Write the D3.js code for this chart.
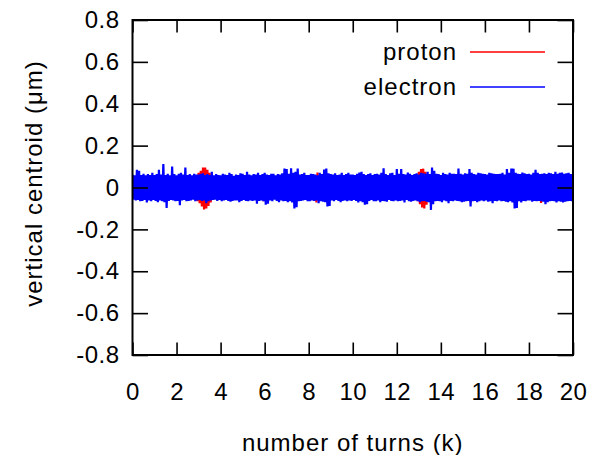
<!DOCTYPE html>
<html>
<head>
<meta charset="utf-8">
<script src="https://cdn.jsdelivr.net/npm/d3@7"></script>
<style>
  body { margin: 0; background: #fff; }
  svg { display: block; }
  text { font-family: "Liberation Sans", Arial, sans-serif; fill: #000; }
</style>
</head>
<body>
<div id="chart"></div>
<script>
// sampling step of the envelopes, in thousands of turns
var sampleStep = 0.1;

var xTicks = [0, 2, 4, 6, 8, 10, 12, 14, 16, 18, 20];
var yTicks = [-0.8, -0.6, -0.4, -0.2, 0, 0.2, 0.4, 0.6, 0.8];
var seriesNames = ['proton', 'electron'];
var seriesColors = ['#ff0000', '#0000ff'];

// vertical centroid (um): upper / lower peaks of the fast oscillation, one per 0.1k turns
var protonHi = [
  0.05,0.052,0.048,0.05,0.052,0.05,0.05,0.048,0.052,0.05,
  0.05,0.05,0.052,0.048,0.05,0.052,0.048,0.05,0.05,0.052,
  0.052,0.05,0.05,0.052,0.048,0.05,0.052,0.05,0.055,0.06,
  0.07,0.08,0.095,0.095,0.085,0.07,0.058,0.052,0.05,0.052,
  0.05,0.05,0.052,0.048,0.05,0.052,0.048,0.05,0.05,0.052,
  0.052,0.05,0.05,0.052,0.048,0.05,0.052,0.05,0.05,0.048,
  0.05,0.052,0.05,0.05,0.052,0.048,0.05,0.052,0.05,0.05,
  0.052,0.05,0.05,0.052,0.048,0.05,0.052,0.05,0.05,0.052,
  0.05,0.05,0.052,0.06,0.072,0.055,0.05,0.052,0.05,0.05,
  0.052,0.05,0.05,0.052,0.048,0.05,0.052,0.05,0.05,0.052,
  0.05,0.052,0.048,0.05,0.052,0.05,0.05,0.048,0.052,0.05,
  0.05,0.05,0.052,0.048,0.05,0.052,0.048,0.05,0.05,0.052,
  0.052,0.05,0.05,0.052,0.048,0.05,0.052,0.05,0.055,0.06,
  0.075,0.088,0.09,0.075,0.06,0.052,0.05,0.05,0.05,0.05,
  0.05,0.052,0.048,0.05,0.052,0.05,0.05,0.048,0.052,0.05,
  0.05,0.05,0.052,0.055,0.05,0.052,0.048,0.05,0.05,0.052,
  0.062,0.05,0.05,0.052,0.048,0.05,0.052,0.05,0.05,0.048,
  0.05,0.052,0.05,0.05,0.052,0.048,0.05,0.052,0.05,0.05,
  0.052,0.05,0.05,0.052,0.066,0.058,0.052,0.05,0.05,0.052,
  0.05,0.05,0.052,0.05,0.05,0.052,0.048,0.05,0.05,0.052,0.05
];
var protonLo = [
  -0.052,-0.05,-0.05,-0.048,-0.05,-0.052,-0.048,-0.05,-0.05,-0.052,
  -0.05,-0.048,-0.052,-0.05,-0.05,-0.052,-0.05,-0.048,-0.052,-0.05,
  -0.05,-0.052,-0.048,-0.05,-0.05,-0.052,-0.05,-0.05,-0.055,-0.065,
  -0.075,-0.09,-0.105,-0.1,-0.088,-0.072,-0.06,-0.052,-0.05,-0.05,
  -0.052,-0.05,-0.048,-0.05,-0.052,-0.05,-0.05,-0.048,-0.052,-0.05,
  -0.05,-0.052,-0.05,-0.048,-0.05,-0.052,-0.05,-0.05,-0.058,-0.066,
  -0.056,-0.05,-0.052,-0.048,-0.05,-0.052,-0.05,-0.05,-0.048,-0.052,
  -0.05,-0.052,-0.048,-0.05,-0.05,-0.052,-0.05,-0.048,-0.052,-0.05,
  -0.05,-0.052,-0.062,-0.072,-0.058,-0.05,-0.05,-0.052,-0.05,-0.048,
  -0.052,-0.05,-0.05,-0.048,-0.05,-0.052,-0.05,-0.05,-0.052,-0.05,
  -0.05,-0.052,-0.048,-0.05,-0.052,-0.05,-0.05,-0.048,-0.052,-0.05,
  -0.05,-0.048,-0.052,-0.05,-0.05,-0.052,-0.05,-0.048,-0.052,-0.05,
  -0.05,-0.052,-0.048,-0.05,-0.05,-0.052,-0.05,-0.05,-0.055,-0.065,
  -0.08,-0.095,-0.1,-0.082,-0.062,-0.052,-0.05,-0.05,-0.048,-0.05,
  -0.052,-0.05,-0.048,-0.05,-0.052,-0.05,-0.05,-0.048,-0.052,-0.05,
  -0.05,-0.052,-0.06,-0.072,-0.058,-0.05,-0.05,-0.052,-0.05,-0.048,
  -0.052,-0.05,-0.05,-0.048,-0.05,-0.052,-0.05,-0.05,-0.052,-0.05,
  -0.05,-0.052,-0.048,-0.05,-0.052,-0.05,-0.05,-0.048,-0.052,-0.05,
  -0.05,-0.048,-0.052,-0.05,-0.06,-0.074,-0.06,-0.05,-0.052,-0.05,
  -0.05,-0.052,-0.05,-0.048,-0.05,-0.052,-0.05,-0.05,-0.052,-0.05,-0.05
];

var electronHi = [
  0.062,0.058,0.085,0.08,0.06,0.066,0.058,0.064,0.06,0.07,
  0.06,0.064,0.085,0.062,0.112,0.06,0.066,0.058,0.1,0.064,
  0.058,0.066,0.07,0.062,0.095,0.06,0.064,0.058,0.066,0.062,
  0.062,0.066,0.068,0.06,0.064,0.06,0.075,0.058,0.064,0.06,
  0.058,0.066,0.062,0.06,0.07,0.064,0.056,0.062,0.06,0.068,
  0.065,0.06,0.075,0.062,0.058,0.064,0.062,0.07,0.06,0.064,
  0.07,0.062,0.06,0.066,0.066,0.058,0.064,0.062,0.068,0.09,
  0.088,0.066,0.092,0.07,0.075,0.09,0.062,0.064,0.07,0.06,
  0.06,0.066,0.064,0.062,0.058,0.07,0.064,0.086,0.09,0.068,
  0.064,0.062,0.068,0.06,0.062,0.07,0.06,0.064,0.07,0.062,
  0.062,0.06,0.066,0.072,0.075,0.064,0.06,0.064,0.068,0.06,
  0.064,0.066,0.062,0.07,0.092,0.064,0.06,0.068,0.07,0.06,
  0.088,0.066,0.088,0.064,0.062,0.072,0.066,0.06,0.064,0.068,
  0.062,0.07,0.068,0.066,0.075,0.064,0.095,0.08,0.066,0.064,
  0.06,0.07,0.064,0.062,0.07,0.066,0.066,0.064,0.09,0.066,
  0.062,0.068,0.066,0.088,0.07,0.064,0.062,0.07,0.068,0.066,
  0.064,0.062,0.07,0.068,0.066,0.064,0.064,0.066,0.07,0.062,
  0.088,0.07,0.09,0.09,0.07,0.066,0.064,0.072,0.068,0.064,
  0.066,0.062,0.07,0.085,0.07,0.064,0.066,0.068,0.064,0.07,
  0.068,0.064,0.075,0.066,0.07,0.072,0.066,0.068,0.07,0.064,0.062
];
var electronLo = [
  -0.058,-0.062,-0.06,-0.066,-0.064,-0.06,-0.072,-0.062,-0.066,-0.06,
  -0.064,-0.07,-0.062,-0.066,-0.07,-0.098,-0.064,-0.06,-0.062,-0.066,
  -0.064,-0.085,-0.062,-0.06,-0.066,-0.064,-0.062,-0.058,-0.066,-0.062,
  -0.06,-0.064,-0.062,-0.075,-0.066,-0.062,-0.06,-0.058,-0.064,-0.06,
  -0.066,-0.062,-0.06,-0.064,-0.068,-0.064,-0.062,-0.062,-0.07,-0.064,
  -0.06,-0.064,-0.066,-0.062,-0.064,-0.062,-0.078,-0.064,-0.062,-0.066,
  -0.082,-0.078,-0.062,-0.066,-0.058,-0.064,-0.07,-0.062,-0.066,-0.064,
  -0.07,-0.066,-0.072,-0.1,-0.094,-0.066,-0.064,-0.062,-0.06,-0.066,
  -0.066,-0.062,-0.064,-0.062,-0.075,-0.066,-0.068,-0.07,-0.09,-0.088,
  -0.062,-0.066,-0.06,-0.064,-0.07,-0.064,-0.062,-0.066,-0.062,-0.064,
  -0.06,-0.064,-0.072,-0.066,-0.07,-0.082,-0.08,-0.064,-0.06,-0.066,
  -0.066,-0.062,-0.07,-0.064,-0.066,-0.068,-0.06,-0.064,-0.066,-0.062,
  -0.066,-0.064,-0.062,-0.072,-0.06,-0.066,-0.068,-0.064,-0.062,-0.066,
  -0.07,-0.066,-0.064,-0.068,-0.07,-0.107,-0.08,-0.066,-0.064,-0.066,
  -0.07,-0.062,-0.066,-0.075,-0.064,-0.066,-0.062,-0.064,-0.066,-0.07,
  -0.068,-0.066,-0.064,-0.09,-0.066,-0.064,-0.07,-0.066,-0.062,-0.066,
  -0.062,-0.068,-0.066,-0.075,-0.064,-0.066,-0.062,-0.066,-0.064,-0.068,
  -0.07,-0.066,-0.072,-0.1,-0.098,-0.066,-0.072,-0.064,-0.066,-0.062,
  -0.062,-0.068,-0.064,-0.066,-0.064,-0.066,-0.068,-0.08,-0.07,-0.066,
  -0.064,-0.066,-0.072,-0.066,-0.068,-0.072,-0.068,-0.066,-0.064,-0.066,-0.062
];

var W = 589, H = 455;
var margin = {top: 20, right: 16, bottom: 100, left: 132.5};
var width = W - margin.left - margin.right, height = H - margin.top - margin.bottom;

var svg = d3.select("#chart").append("svg")
    .attr("width", W)
    .attr("height", H);

var g = svg.append("g").attr("transform", "translate(" + margin.left + "," + margin.top + ")");

var x = d3.scaleLinear().domain([0, 20]).range([0, width]);
var y = d3.scaleLinear().domain([-0.8, 0.8]).range([height, 0]);

g.append("clipPath").attr("id", "clip")
    .append("rect").attr("width", width).attr("height", height);

// zig-zag through the peaks: upper at t, lower half a step later
function peaks(hi, lo) {
    var pts = [];
    for (var i = 0; i < hi.length; i++) {
        pts.push([i * sampleStep, hi[i]]);
        if (i < lo.length) pts.push([(i + 0.5) * sampleStep, lo[i]]);
    }
    return pts;
}

var line = d3.line()
    .x(function (d) { return x(d[0]); })
    .y(function (d) { return y(d[1]); });

[peaks(protonHi, protonLo), peaks(electronHi, electronLo)].forEach(function (pts, k) {
    g.append("path")
        .datum(pts)
        .attr("clip-path", "url(#clip)")
        .attr("fill", "none")
        .attr("stroke", seriesColors[k])
        .attr("stroke-width", 2.2)
        .attr("stroke-linejoin", "bevel")
        .attr("d", line);
});

// axes: ticks pointing in, mirrored on top and right
var xTickLen = 12.5, yTickLen = 15.5;

g.append("g")
    .attr("transform", "translate(0," + height + ")")
    .call(d3.axisBottom(x).tickValues(xTicks).tickSizeInner(-xTickLen).tickSizeOuter(0).tickPadding(28))
    .call(styleAxis);

g.append("g")
    .call(d3.axisTop(x).tickValues(xTicks).tickSizeInner(-xTickLen).tickSizeOuter(0).tickFormat(""))
    .call(styleAxis);

g.append("g")
    .call(d3.axisLeft(y).tickValues(yTicks).tickSizeInner(-yTickLen).tickSizeOuter(0).tickPadding(13)
        .tickFormat(function (d) { return d === 0 ? "0" : d3.format(".1f")(d).replace("\u2212", "-"); }))
    .call(styleAxis);

g.append("g")
    .attr("transform", "translate(" + width + ",0)")
    .call(d3.axisRight(y).tickValues(yTicks).tickSizeInner(-yTickLen).tickSizeOuter(0).tickFormat(""))
    .call(styleAxis);

function styleAxis(sel) {
    sel.select(".domain").remove();
    sel.selectAll(".tick line").attr("stroke", "#000").attr("stroke-width", 1.6);
    sel.selectAll(".tick text")
        .style("font-family", "Liberation Sans, Arial, sans-serif")
        .style("font-size", "24px")
        .style("letter-spacing", "0.5px")
        .attr("fill", "#000");
}

g.append("rect")
    .attr("width", width)
    .attr("height", height)
    .attr("fill", "none")
    .attr("stroke", "#000")
    .attr("stroke-width", 2);

// axis titles
svg.append("text")
    .attr("x", margin.left + width / 2)
    .attr("y", 451)
    .attr("text-anchor", "middle")
    .style("font-size", "24px")
    .style("letter-spacing", "1px")
    .text("number of turns (k)");

svg.append("text")
    .attr("transform", "translate(42," + (margin.top + height / 2 - 4) + ") rotate(-90)")
    .attr("text-anchor", "middle")
    .style("font-size", "24px")
    .style("letter-spacing", "1px")
    .text("vertical centroid (\u03bcm)");

// key
var key = g.append("g").attr("transform", "translate(" + (width - 28) + ",32)");
seriesNames.forEach(function (name, i) {
    var row = key.append("g").attr("transform", "translate(0," + (i * 35) + ")");
    row.append("line")
        .attr("x1", -75).attr("x2", 0)
        .attr("stroke", seriesColors[i])
        .attr("stroke-width", 1.6);
    row.append("text")
        .attr("x", -88)
        .attr("dy", "0.35em")
        .attr("text-anchor", "end")
        .style("font-size", "24px")
        .style("letter-spacing", "1px")
        .text(name);
});
</script>
</body>
</html>
